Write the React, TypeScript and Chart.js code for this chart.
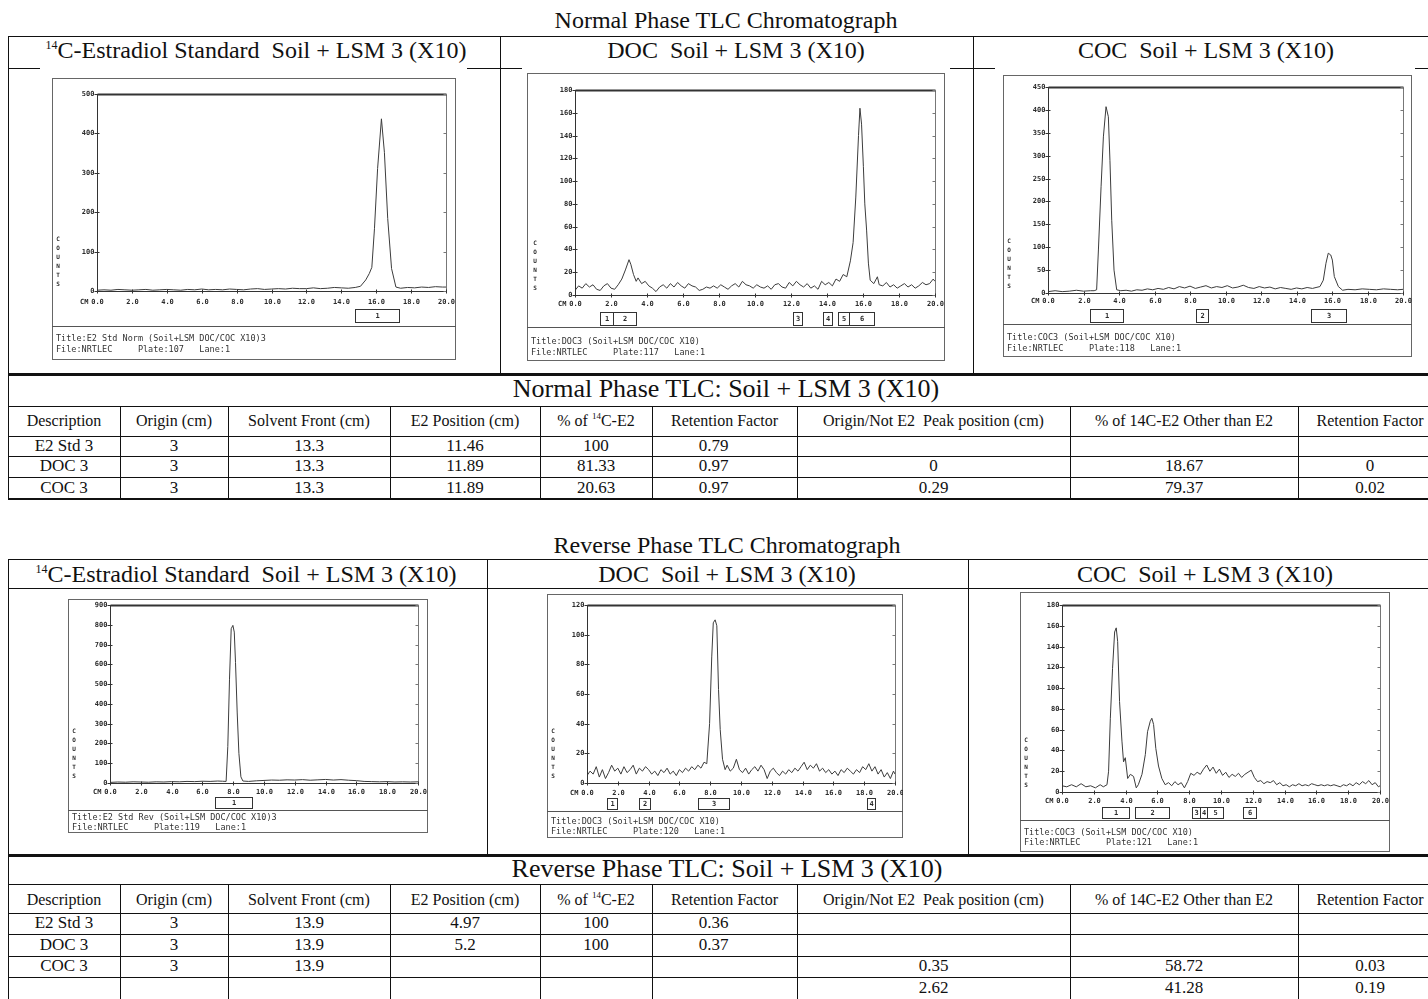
import React, { useEffect, useRef } from "react";
import { Chart, registerables } from "chart.js";

Chart.register(...registerables);

// ---------------- DATA ----------------
const xTickValues = [0, 2, 4, 6, 8, 10, 12, 14, 16, 18, 20];

// Normal phase – 14C-Estradiol standard
const npStdTrace = [[0,2],[0.4,3],[0.8,2],[1.2,4],[1.6,3],[2,2],[2.4,3],[2.8,4],[3.2,2],[3.6,3],[4,4],[4.4,3],[4.8,2],[5.2,4],[5.6,3],[6,5],[6.4,3],[6.8,4],[7.2,3],[7.6,5],[8,4],[8.4,3],[8.8,5],[9.2,6],[9.6,4],[10,5],[10.4,6],[10.8,5],[11.2,7],[11.6,6],[12,6],[12.4,8],[12.8,6],[13.2,7],[13.6,9],[14,8],[14.4,7],[14.8,9],[15.1,12],[15.4,28],[15.6,44],[15.75,60],[15.9,158],[16.08,311],[16.3,437],[16.47,352],[16.66,184],[16.88,57],[17.13,10],[17.4,7],[17.8,9],[18.2,8],[18.6,10],[19,9],[19.4,11],[19.8,10],[20,10]];
const npStdYTicks = [0, 100, 200, 300, 400, 500];
const npStdRegions = [[14.8, 17.3]];
const npStdTitles = ["Title:E2 Std Norm (Soil+LSM DOC/COC X10)3", "File:NRTLEC     Plate:107   Lane:1"];

// Normal phase – DOC
const npDocTrace = [[0,4],[0.2,8],[0.4,6],[0.6,10],[0.8,7],[1.0,9],[1.2,5],[1.4,4],[1.6,8],[1.8,10],[2.0,6],[2.2,5],[2.4,9],[2.6,14],[2.8,22],[3.0,31],[3.1,27],[3.25,18],[3.4,12],[3.5,15],[3.7,10],[3.9,12],[4.1,8],[4.3,6],[4.5,3],[4.7,7],[4.9,9],[5.1,6],[5.3,10],[5.5,7],[5.7,11],[5.9,8],[6.1,6],[6.3,10],[6.5,8],[6.7,7],[6.9,4],[7.1,5],[7.3,7],[7.5,6],[7.7,8],[7.9,6],[8.1,9],[8.3,7],[8.5,5],[8.7,8],[8.9,10],[9.1,7],[9.3,12],[9.5,9],[9.7,8],[9.9,6],[10.1,9],[10.3,7],[10.5,6],[10.7,8],[10.9,5],[11.1,9],[11.3,10],[11.5,7],[11.7,6],[11.9,11],[12.1,8],[12.3,12],[12.5,9],[12.7,7],[12.9,10],[13.1,6],[13.3,8],[13.5,5],[13.7,12],[13.9,9],[14.1,11],[14.3,8],[14.5,14],[14.7,12],[14.9,18],[15.1,16],[15.3,30],[15.45,46],[15.6,86],[15.75,140],[15.83,164],[15.92,150],[16.02,113],[16.1,80],[16.2,57],[16.3,28],[16.4,13],[16.6,10],[16.8,16],[16.9,9],[17.1,8],[17.3,11],[17.5,7],[17.7,9],[17.9,6],[18.1,8],[18.3,10],[18.5,7],[18.7,9],[18.9,6],[19.1,8],[19.3,11],[19.5,9],[19.7,10],[19.9,14],[20,12]];
const npDocYTicks = [0, 20, 40, 60, 80, 100, 120, 140, 160, 180];
const npDocRegions = [[1.4, 2.1], [2.1, 3.4], [12.1, 12.6], [13.8, 14.3], [14.6, 15.2], [15.2, 16.6]];
const npDocTitles = ["Title:DOC3 (Soil+LSM DOC/COC X10)", "File:NRTLEC     Plate:117   Lane:1"];

// Normal phase – COC
const npCocTrace = [[0,3],[0.4,5],[0.8,3],[1.2,4],[1.6,6],[2.0,4],[2.4,5],[2.6,5],[2.74,7],[2.84,94],[2.99,232],[3.12,341],[3.27,407],[3.4,385],[3.49,290],[3.59,159],[3.72,50],[3.87,7],[4.1,5],[4.4,6],[4.7,4],[5.0,7],[5.3,6],[5.6,9],[5.9,7],[6.2,10],[6.5,8],[6.8,12],[7.1,9],[7.4,14],[7.7,11],[8.0,15],[8.3,10],[8.6,13],[8.9,16],[9.2,11],[9.5,14],[9.8,12],[10.1,16],[10.4,11],[10.7,13],[11.0,17],[11.3,12],[11.6,10],[11.9,14],[12.2,11],[12.5,13],[12.8,9],[13.1,12],[13.4,10],[13.7,8],[14.0,11],[14.3,9],[14.6,12],[14.9,10],[15.1,12],[15.32,14],[15.51,28],[15.66,65],[15.79,87],[15.93,83],[16.02,72],[16.13,36],[16.36,14],[16.6,6],[16.9,8],[17.3,7],[17.7,9],[18.1,8],[18.5,7],[18.9,9],[19.3,8],[19.7,7],[20,8]];
const npCocYTicks = [0, 50, 100, 150, 200, 250, 300, 350, 400, 450];
const npCocRegions = [[2.35, 4.2], [8.35, 9.0], [14.8, 16.8]];
const npCocTitles = ["Title:COC3 (Soil+LSM DOC/COC X10)", "File:NRTLEC     Plate:118   Lane:1"];

// Reverse phase – 14C-Estradiol standard
const rpStdTrace = [[0,3],[0.5,5],[1,4],[1.5,6],[2,5],[2.5,4],[3,6],[3.5,5],[4,7],[4.5,6],[5,8],[5.5,7],[6,9],[6.5,8],[7,10],[7.3,9],[7.54,8],[7.65,184],[7.76,525],[7.87,780],[7.98,797],[8.07,763],[8.15,610],[8.26,354],[8.37,150],[8.5,31],[8.63,10],[9,8],[9.5,11],[10,13],[10.5,15],[11,14],[11.5,16],[12,15],[12.5,17],[13,14],[13.5,16],[14,18],[14.5,15],[15,17],[15.5,14],[16,12],[16.5,8],[17,7],[17.5,6],[18,7],[18.5,5],[19,6],[19.5,5],[20,6]];
const rpStdYTicks = [0, 100, 200, 300, 400, 500, 600, 700, 800, 900];
const rpStdRegions = [[6.8, 9.2]];
const rpStdTitles = ["Title:E2 Std Rev (Soil+LSM DOC/COC X10)3", "File:NRTLEC     Plate:119   Lane:1"];

// Reverse phase – DOC
const rpDocTrace = [[0,5],[0.2,8],[0.4,6],[0.6,11],[0.8,4],[1.0,9],[1.2,3],[1.4,7],[1.6,12],[1.8,8],[2.0,10],[2.2,6],[2.4,11],[2.6,7],[2.8,9],[3.0,12],[3.2,6],[3.4,10],[3.6,8],[3.8,11],[4.0,9],[4.2,6],[4.4,8],[4.6,5],[4.8,9],[5.0,7],[5.2,10],[5.4,6],[5.6,8],[5.8,5],[6.0,9],[6.2,7],[6.4,10],[6.6,8],[6.8,11],[7.0,9],[7.2,12],[7.4,10],[7.6,14],[7.78,13],[7.96,40],[8.1,85],[8.2,108],[8.32,110],[8.43,106],[8.54,63],[8.65,36],[8.8,16],[8.97,9],[9.1,12],[9.3,8],[9.5,10],[9.7,16],[9.9,9],[10.1,7],[10.3,10],[10.5,6],[10.7,9],[10.9,11],[11.1,8],[11.3,12],[11.5,9],[11.7,3],[11.9,8],[12.1,10],[12.3,7],[12.5,5],[12.7,8],[12.9,6],[13.1,9],[13.3,7],[13.5,10],[13.7,8],[13.9,11],[14.1,14],[14.3,9],[14.5,12],[14.7,10],[14.9,13],[15.1,8],[15.3,10],[15.5,7],[15.7,9],[15.9,6],[16.1,8],[16.3,5],[16.5,9],[16.7,7],[16.9,10],[17.1,8],[17.3,6],[17.5,9],[17.7,7],[17.9,11],[18.1,9],[18.3,13],[18.5,8],[18.7,11],[18.9,6],[19.1,9],[19.3,4],[19.5,7],[19.7,3],[19.9,8],[20,6]];
const rpDocYTicks = [0, 20, 40, 60, 80, 100, 120];
const rpDocRegions = [[1.3, 1.95], [3.35, 4.1], [7.2, 9.2], [18.2, 18.7]];
const rpDocTitles = ["Title:DOC3 (Soil+LSM DOC/COC X10)", "File:NRTLEC     Plate:120   Lane:1"];

// Reverse phase – COC
const rpCocTrace = [[0,6],[0.3,5],[0.6,7],[0.9,5],[1.2,8],[1.5,5],[1.8,6],[2.1,4],[2.4,7],[2.6,5],[2.83,7],[2.93,20],[3.04,71],[3.18,119],[3.31,154],[3.41,158],[3.5,145],[3.62,87],[3.77,49],[3.87,29],[3.98,33],[4.13,13],[4.3,17],[4.5,15],[4.67,4],[4.8,7],[5.03,17],[5.24,36],[5.38,58],[5.55,68],[5.65,71],[5.76,65],[5.9,42],[6.07,25],[6.28,13],[6.49,7],[6.7,9],[6.9,6],[7.1,10],[7.3,7],[7.5,9],[7.7,4],[7.9,10],[8.1,18],[8.3,16],[8.5,19],[8.7,17],[8.9,22],[9.1,26],[9.3,20],[9.5,24],[9.7,18],[9.9,22],[10.1,16],[10.3,19],[10.5,14],[10.7,17],[10.9,15],[11.1,18],[11.3,14],[11.5,17],[11.7,19],[11.9,21],[12.1,14],[12.3,10],[12.5,11],[12.7,8],[12.9,10],[13.1,9],[13.3,11],[13.5,7],[13.7,9],[13.9,6],[14.1,7],[14.3,5],[14.5,7],[14.7,6],[14.9,8],[15.1,6],[15.3,7],[15.5,6],[15.7,8],[15.9,7],[16.1,6],[16.3,7],[16.5,6],[16.7,7],[16.9,6],[17.1,7],[17.3,6],[17.5,5],[17.7,7],[17.9,6],[18.1,8],[18.3,6],[18.5,9],[18.7,7],[18.9,10],[19.1,8],[19.3,11],[19.5,7],[19.7,9],[19.9,5],[20,6]];
const rpCocYTicks = [0, 20, 40, 60, 80, 100, 120, 140, 160, 180];
const rpCocRegions = [[2.5, 4.2], [4.6, 6.75], [8.15, 8.65], [8.7, 9.1], [9.1, 10.15], [11.4, 12.2]];
const rpCocTitles = ["Title:COC3 (Soil+LSM DOC/COC X10)", "File:NRTLEC     Plate:121   Lane:1"];

// Tables
const tableHeaders = ["Description", "Origin (cm)", "Solvent Front (cm)", "E2 Position (cm)", "% of 14C-E2", "Retention Factor", "Origin/Not E2  Peak position (cm)", "% of 14C-E2 Other than E2", "Retention Factor"];
const normalRows = [
  ["E2 Std 3", "3", "13.3", "11.46", "100", "0.79", "", "", ""],
  ["DOC 3", "3", "13.3", "11.89", "81.33", "0.97", "0", "18.67", "0"],
  ["COC 3", "3", "13.3", "11.89", "20.63", "0.97", "0.29", "79.37", "0.02"],
];
const reverseRows = [
  ["E2 Std 3", "3", "13.9", "4.97", "100", "0.36", "", "", ""],
  ["DOC 3", "3", "13.9", "5.2", "100", "0.37", "", "", ""],
  ["COC 3", "3", "13.9", "", "", "", "0.35", "58.72", "0.03"],
  ["", "", "", "", "", "", "2.62", "41.28", "0.19"],
];

// ---------------- LAYOUT ----------------
const GEO: any = {
  npStd: { frame: [52, 78, 456, 360], plot: [97, 94, 446, 291], xLabelY: 302, box: [309, 322], sepY: 326, titleY: [339, 350] },
  npDoc: { frame: [527, 73, 945, 361], plot: [575, 90, 935, 295], xLabelY: 304, box: [312, 325], sepY: 327, titleY: [342, 353] },
  npCoc: { frame: [1003, 75, 1412, 357], plot: [1048, 87, 1403, 293], xLabelY: 301, box: [309, 322], sepY: 324, titleY: [338, 349] },
  rpStd: { frame: [68, 599, 428, 833], plot: [110, 605, 418, 783], xLabelY: 792, box: [797, 808], sepY: 810, titleY: [818, 828] },
  rpDoc: { frame: [547, 594, 903, 838], plot: [587, 605, 895, 783], xLabelY: 793, box: [798, 809], sepY: 811, titleY: [822, 832] },
  rpCoc: { frame: [1020, 592, 1390, 852], plot: [1062, 605, 1380, 792], xLabelY: 801, box: [807, 818], sepY: 820, titleY: [833, 843] },
};

const COL_X = [8, 120, 228, 390, 540, 652, 797, 1070, 1298, 1442];
const DATA_DX = [0, 0, 0, 0, 0, -11, 0, 0, 0];
const INK = "#111";
const SERIF = '"Liberation Serif", "Times New Roman", serif';
const MONO = '"DejaVu Sans Mono", monospace';

function Chromatogram({ trace, yMax, yTicks, regions, titles, geo }: any) {
  const ref = useRef<HTMLCanvasElement>(null);
  const [fl, ft, fr, fb] = geo.frame;
  const [pl, pt, pr, pb] = geo.plot;
  const W = fr - fl;
  const H = fb - ft;
  useEffect(() => {
    const canvas = ref.current;
    if (!canvas) return;
    const decor = {
      id: "tlcDecor",
      afterDraw(chart: any) {
        const ctx = chart.ctx;
        const a = chart.chartArea;
        const xs = chart.scales.x;
        const ys = chart.scales.y;
        const line = (x1: number, y1: number, x2: number, y2: number) => {
          ctx.beginPath();
          ctx.moveTo(x1, y1);
          ctx.lineTo(x2, y2);
          ctx.stroke();
        };
        ctx.save();
        // outer paper frame
        ctx.strokeStyle = "#666";
        ctx.lineWidth = 1;
        ctx.strokeRect(0.5, 0.5, W - 1, H - 1);
        const L = Math.round(a.left) + 0.5;
        const R = Math.round(a.right) + 0.5;
        const T = Math.round(a.top) + 0.5;
        const B = Math.round(a.bottom) + 0.5;
        ctx.strokeStyle = "#333";
        line(L, T, L, B);
        line(L, B, R, B);
        ctx.strokeStyle = "#777";
        line(R, T, R, B);
        ctx.strokeStyle = "#333";
        ctx.lineWidth = 2;
        line(L, T, R, T);
        ctx.lineWidth = 1;
        // y ticks
        ctx.fillStyle = "#2a2a2a";
        ctx.font = `bold 7px ${MONO}`;
        ctx.textAlign = "right";
        ctx.textBaseline = "middle";
        yTicks.forEach((v: number) => {
          const y = Math.round(ys.getPixelForValue(v)) + 0.5;
          ctx.strokeStyle = "#333";
          line(L - 3, y, L + 2, y);
          ctx.strokeStyle = "#777";
          line(R - 3, y, R, y);
          ctx.fillText(String(v), L - 3, y);
        });
        // x ticks
        ctx.textAlign = "center";
        const ly = geo.xLabelY - ft;
        xTickValues.forEach((v: number) => {
          const x = Math.round(xs.getPixelForValue(v)) + 0.5;
          ctx.strokeStyle = "#333";
          line(x, B - 2, x, B + 2);
          ctx.fillText(v.toFixed(1), x, ly);
        });
        ctx.textAlign = "right";
        ctx.fillText("CM", L - 9, ly);
        // COUNTS
        ctx.textAlign = "center";
        ctx.font = `bold 6px ${MONO}`;
        const cxCounts = Math.max(a.left - 40, 6);
        "COUNTS".split("").forEach((ch, i) => {
          ctx.fillText(ch, cxCounts, a.bottom - 52 + i * 9);
        });
        // peak regions
        ctx.font = `bold 7px ${MONO}`;
        ctx.strokeStyle = "#333";
        const by1 = geo.box[0] - ft + 0.5;
        const by2 = geo.box[1] - ft + 0.5;
        regions.forEach((r: number[], i: number) => {
          const x1 = Math.round(xs.getPixelForValue(r[0])) + 0.5;
          const x2 = Math.round(xs.getPixelForValue(r[1])) + 0.5;
          ctx.strokeRect(x1, by1, x2 - x1, by2 - by1);
          ctx.fillText(String(i + 1), (x1 + x2) / 2, (by1 + by2) / 2);
        });
        // separator + title lines
        ctx.strokeStyle = "#555";
        const sy = geo.sepY - ft + 0.5;
        line(0, sy, W, sy);
        ctx.textAlign = "left";
        ctx.font = `8.5px ${MONO}`;
        ctx.fillStyle = "#333";
        titles.forEach((t: string, i: number) => {
          ctx.fillText(t, 4, geo.titleY[i] - ft);
        });
        ctx.restore();
      },
    };
    const chart = new Chart(canvas, {
      type: "line",
      data: {
        datasets: [
          {
            data: trace.map((p: number[]) => ({ x: p[0], y: p[1] })),
            borderColor: "#3c3c3c",
            borderWidth: 1,
            pointRadius: 0,
            tension: 0,
            fill: false,
          },
        ],
      },
      options: {
        animation: false,
        responsive: false,
        maintainAspectRatio: false,
        devicePixelRatio: 1,
        layout: { padding: { left: pl - fl, top: pt - ft, right: fr - pr, bottom: fb - pb } },
        scales: {
          x: { type: "linear", min: 0, max: 20, display: false },
          y: { type: "linear", min: 0, max: yMax, display: false },
        },
        plugins: { legend: { display: false }, tooltip: { enabled: false } },
      } as any,
      plugins: [decor],
    });
    return () => chart.destroy();
  }, []);
  return (
    <canvas
      ref={ref}
      width={W}
      height={H}
      style={{ position: "absolute", left: fl, top: ft, width: W, height: H, background: "#fff" }}
    />
  );
}

function HL({ x1, x2, y, w = 1 }: any) {
  return <div style={{ position: "absolute", left: x1, top: Math.round(y - w / 2), width: x2 - x1, height: w, background: INK }} />;
}
function VL({ x, y1, y2, w = 1 }: any) {
  return <div style={{ position: "absolute", left: Math.round(x - w / 2), top: y1, width: w, height: y2 - y1, background: INK }} />;
}
function Txt({ cx, cy, size, children }: any) {
  return (
    <div
      style={{
        position: "absolute",
        left: cx - 400,
        top: Math.round(cy - size * 0.6),
        width: 800,
        textAlign: "center",
        fontSize: size,
        lineHeight: `${Math.round(size * 1.2)}px`,
        whiteSpace: "pre",
        color: INK,
      }}
    >
      {children}
    </div>
  );
}
function Sup({ size }: any) {
  return <span style={{ fontSize: size, position: "relative", top: -size * 0.75 }}>14</span>;
}

function DataTable({ lineYs, headerY, rowYs, rows }: any) {
  const cx = COL_X.slice(0, -1).map((x, i) => (x + COL_X[i + 1]) / 2);
  const top = lineYs[0];
  const bottom = lineYs[lineYs.length - 1];
  return (
    <>
      {lineYs.map((y: number, i: number) => (
        <HL key={"h" + i} x1={8} x2={1428} y={y} w={i === lineYs.length - 1 ? 2 : 1} />
      ))}
      {COL_X.slice(1, -1).map((x, i) => (
        <VL key={"v" + i} x={x} y1={top} y2={bottom} />
      ))}
      {tableHeaders.map((h, i) => (
        <Txt key={"t" + i} cx={cx[i]} cy={headerY} size={16}>
          {i === 4 ? (
            <>
              % of <Sup size={9} />C-E2
            </>
          ) : (
            h
          )}
        </Txt>
      ))}
      {rows.map((r: string[], ri: number) =>
        r.map((c, ci) =>
          c ? (
            <Txt key={`c${ri}-${ci}`} cx={cx[ci] + DATA_DX[ci]} cy={rowYs[ri]} size={17}>
              {c}
            </Txt>
          ) : null
        )
      )}
    </>
  );
}

export default function App() {
  return (
    <div
      style={{
        position: "absolute",
        left: 0,
        top: 0,
        width: 1428,
        height: 999,
        overflow: "hidden",
        background: "#fff",
        fontFamily: SERIF,
      }}
    >
      {/* ---------- NORMAL PHASE ---------- */}
      <Txt cx={726} cy={20} size={24}>Normal Phase TLC Chromatograph</Txt>
      <HL x1={8} x2={1428} y={36} />
      <VL x={8} y1={36} y2={500} />
      <VL x={500} y1={36} y2={374} />
      <VL x={973} y1={36} y2={374} />
      <HL x1={8} x2={40} y={68} />
      <HL x1={467} x2={522} y={68} />
      <HL x1={950} x2={995} y={68} />
      <HL x1={1415} x2={1428} y={68} />
      <Txt cx={256} cy={50} size={24}>
        <Sup size={12} />C-Estradiol Standard  Soil + LSM 3 (X10)
      </Txt>
      <Txt cx={736} cy={50} size={24}>DOC  Soil + LSM 3 (X10)</Txt>
      <Txt cx={1206} cy={50} size={24}>COC  Soil + LSM 3 (X10)</Txt>

      <Chromatogram trace={npStdTrace} yMax={500} yTicks={npStdYTicks} regions={npStdRegions} titles={npStdTitles} geo={GEO.npStd} />
      <Chromatogram trace={npDocTrace} yMax={180} yTicks={npDocYTicks} regions={npDocRegions} titles={npDocTitles} geo={GEO.npDoc} />
      <Chromatogram trace={npCocTrace} yMax={450} yTicks={npCocYTicks} regions={npCocRegions} titles={npCocTitles} geo={GEO.npCoc} />

      <HL x1={8} x2={1428} y={374} w={3} />
      <Txt cx={726} cy={389} size={26}>Normal Phase TLC: Soil + LSM 3 (X10)</Txt>
      <DataTable lineYs={[406, 436, 456, 477, 499]} headerY={421} rowYs={[446, 466, 488]} rows={normalRows} />

      {/* ---------- REVERSE PHASE ---------- */}
      <Txt cx={727} cy={545} size={24}>Reverse Phase TLC Chromatograph</Txt>
      <HL x1={8} x2={1428} y={559} />
      <VL x={8} y1={559} y2={999} />
      <VL x={487} y1={559} y2={855} />
      <VL x={968} y1={559} y2={855} />
      <HL x1={8} x2={1428} y={588} />
      <Txt cx={246} cy={574} size={24}>
        <Sup size={12} />C-Estradiol Standard  Soil + LSM 3 (X10)
      </Txt>
      <Txt cx={727} cy={574} size={24}>DOC  Soil + LSM 3 (X10)</Txt>
      <Txt cx={1205} cy={574} size={24}>COC  Soil + LSM 3 (X10)</Txt>

      <Chromatogram trace={rpStdTrace} yMax={900} yTicks={rpStdYTicks} regions={rpStdRegions} titles={rpStdTitles} geo={GEO.rpStd} />
      <Chromatogram trace={rpDocTrace} yMax={120} yTicks={rpDocYTicks} regions={rpDocRegions} titles={rpDocTitles} geo={GEO.rpDoc} />
      <Chromatogram trace={rpCocTrace} yMax={180} yTicks={rpCocYTicks} regions={rpCocRegions} titles={rpCocTitles} geo={GEO.rpCoc} />

      <HL x1={8} x2={1428} y={855} w={3} />
      <Txt cx={727} cy={869} size={26}>Reverse Phase TLC: Soil + LSM 3 (X10)</Txt>
      <DataTable lineYs={[884, 913, 934, 956, 977, 1000]} headerY={900} rowYs={[923, 945, 966, 988]} rows={reverseRows} />
    </div>
  );
}
